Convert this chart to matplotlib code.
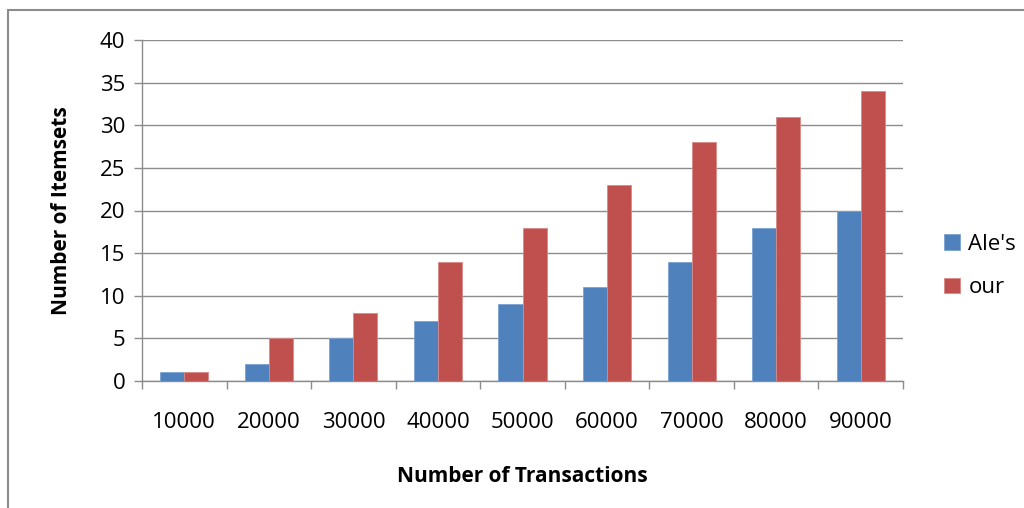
import matplotlib
matplotlib.use("Agg")
import matplotlib.pyplot as plt
import numpy as np
from matplotlib.patches import Rectangle

categories = ["10000", "20000", "30000", "40000", "50000", "60000", "70000", "80000", "90000"]
ales = [1, 2, 5, 7, 9, 11, 14, 18, 20]
our = [1, 5, 8, 14, 18, 23, 28, 31, 34]
yticks = [0, 5, 10, 15, 20, 25, 30, 35, 40]

plt.rcParams['font.family'] = ['Open Sans', 'DejaVu Sans']

fig = plt.figure(figsize=(10.24, 5.08), dpi=100)
ax = fig.add_axes([142/1024, 1-381/508, (903-142)/1024, (381-40)/508])

# outer frame
fig.patches.append(Rectangle((8/1024, -0.1), 1.2, 1-10/508+0.1, transform=fig.transFigure,
                             fill=False, edgecolor='#8c8c8c', linewidth=1.5, zorder=0))

x = np.arange(len(categories))
w = 0.285
ax.bar(x - w/2, ales, w, color='#4f81bd', edgecolor='#7da3d3', linewidth=0.6, label="Ale's", zorder=3)
ax.bar(x + w/2, our, w, color='#c0504d', edgecolor='#d88a88', linewidth=0.6, label="our", zorder=3)

ax.set_xlim(-0.5, len(categories) - 0.5)
ax.set_ylim(0, 40)
ax.set_yticks(yticks)
ax.set_yticklabels([str(t) for t in yticks], fontsize=16)
ax.set_xticks(x)
ax.set_xticklabels(categories, fontsize=16)
ax.tick_params(axis='x', length=0, pad=22)
ax.set_xticks(np.arange(len(categories) + 1) - 0.5, minor=True)
ax.tick_params(axis='x', which='minor', length=6, color='#8c8c8c', width=1)
ax.tick_params(axis='y', length=6, color='#8c8c8c', width=1, pad=6)
ax.grid(axis='y', color='#8c8c8c', linewidth=1, zorder=0)
for s in ['top', 'right']:
    ax.spines[s].set_visible(False)
for s in ['left', 'bottom']:
    ax.spines[s].set_color('#8c8c8c')
    ax.spines[s].set_linewidth(1)
ax.set_axisbelow(True)

ax.set_ylabel("Number of Itemsets", fontsize=15, fontweight='bold', labelpad=20)
ax.set_xlabel("Number of Transactions", fontsize=15, fontweight='bold', labelpad=24)

leg = fig.legend(loc='center left', bbox_to_anchor=(924/1024, 1-266/508), frameon=False,
                 fontsize=16, handlelength=0.7, handleheight=0.7, handletextpad=0.4,
                 labelspacing=1.0)

fig.savefig("out.png", dpi=100)
